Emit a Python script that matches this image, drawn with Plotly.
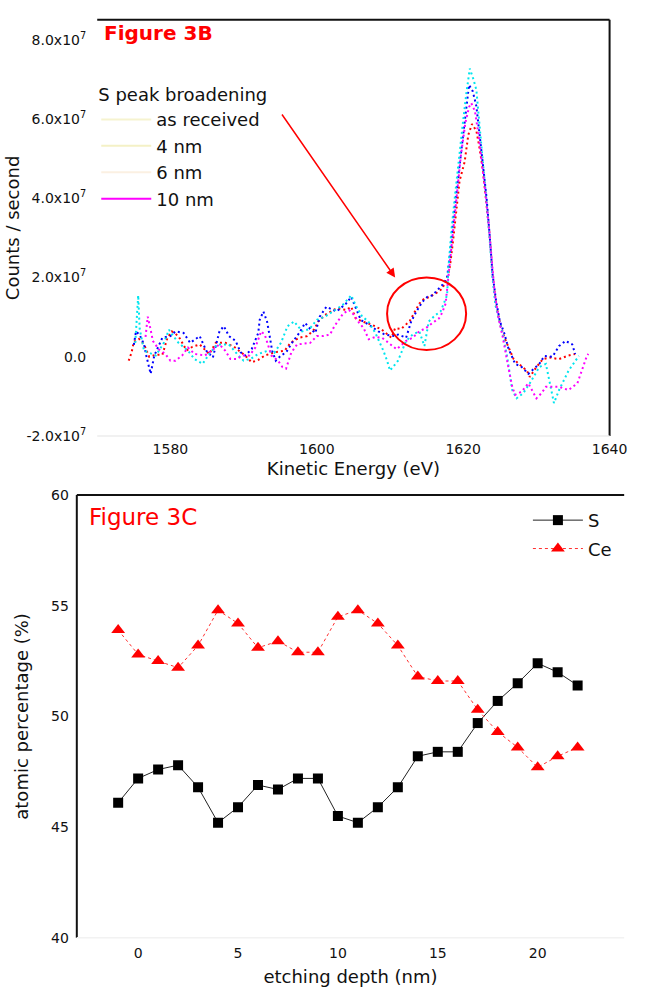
import plotly.graph_objects as go

# ---------------- Figure 3B data (counts/s in units of 1e7) ----------------
e_asrec = [1574.3, 1574.7, 1575.0, 1575.7, 1576.4, 1577.1, 1578.0, 1578.9, 1579.6, 1580.2, 1581.1, 1582.2,
           1583.0, 1584.0, 1585.3, 1586.2, 1587.5, 1588.7, 1590.2, 1591.1, 1592.0, 1592.9, 1594.2, 1595.6,
           1596.4, 1597.6, 1598.7, 1599.6, 1600.2, 1601.1, 1602.7, 1604.0, 1604.7, 1605.3, 1606.2, 1607.5,
           1608.9, 1610.2, 1610.7, 1611.5, 1612.7, 1613.3, 1614.0, 1614.7, 1615.3, 1616.2, 1617.1, 1617.8,
           1618.2, 1618.6, 1619.1, 1619.5, 1620.2, 1620.7, 1621.2, 1621.8, 1622.2, 1622.7, 1623.1, 1623.6,
           1624.0, 1624.5, 1625.1, 1625.6, 1626.4, 1626.9, 1627.6, 1628.7, 1629.1, 1630.0, 1630.9, 1631.8,
           1633.1, 1634.2, 1635.3]
v_asrec = [-0.10, 0.11, 0.38, 0.45, 0.31, 0.00, 0.05, 0.05, 0.48, 0.64, 0.52, 0.16,
           0.25, 0.31, 0.07, 0.35, 0.35, 0.25, 0.03, -0.14, -0.08, 0.03, 0.11, 0.15,
           0.35, 0.48, 0.52, 0.68, 0.89, 1.05, 1.22, 1.18, 1.26, 0.97, 0.89, 0.81,
           0.68, 0.48, 0.72, 0.70, 0.90, 1.10, 1.34, 1.47, 1.50, 1.59, 1.71, 1.96,
           2.29, 2.90, 3.85, 4.43, 4.92, 5.60, 5.87, 5.70, 5.30, 4.70, 4.00, 3.10,
           2.10, 1.30, 0.80, 0.50, 0.15, -0.06, -0.18, -0.35, -0.51, -0.26, -0.06, -0.02,
           -0.06, 0.02, 0.07]

e_4nm = [1575.0, 1575.3, 1575.8, 1576.4, 1576.7, 1577.1, 1577.3, 1577.8, 1578.9, 1580.0, 1580.7, 1581.8,
         1582.7, 1584.0, 1584.9, 1585.8, 1586.7, 1587.3, 1588.0, 1588.9, 1589.6, 1590.2, 1591.1, 1592.0,
         1592.2, 1592.7, 1593.2, 1593.6, 1593.9, 1594.4, 1595.1, 1595.8, 1596.6, 1597.6, 1598.4, 1599.1,
         1599.8, 1600.4, 1601.3, 1602.7, 1604.0, 1604.7, 1605.1, 1606.0, 1607.1, 1608.4, 1609.3, 1610.7,
         1611.1, 1612.2, 1612.9, 1613.6, 1614.4, 1615.1, 1615.8, 1616.7, 1617.3, 1617.8, 1618.2, 1618.6,
         1619.1, 1619.6, 1620.2, 1620.8, 1621.3, 1621.8, 1622.3, 1622.8, 1623.2, 1623.6, 1624.0, 1624.5,
         1625.0, 1625.6, 1626.2, 1627.1, 1628.0, 1628.9, 1630.4, 1631.1, 1632.2, 1633.1, 1634.0, 1634.9,
         1635.3]
v_4nm = [0.30, 0.64, 0.55, 0.31, 0.03, -0.30, -0.43, 0.03, 0.48, 0.52, 0.64, 0.60,
         0.35, 0.52, 0.15, -0.02, 0.64, 0.77, 0.52, 0.40, 0.11, 0.03, 0.19, 0.60,
         0.93, 1.14, 0.89, 0.48, 0.15, -0.10, 0.03, 0.11, 0.35, 0.60, 0.85, 0.70,
         0.60, 1.01, 1.26, 1.14, 1.34, 1.51, 1.34, 0.93, 0.81, 0.64, 0.56, 0.52,
         0.56, 0.48, 0.89, 1.14, 1.38, 1.51, 1.55, 1.71, 1.84, 2.00, 2.60, 3.40,
         4.20, 5.10, 6.00, 6.86, 6.70, 6.32, 5.50, 4.70, 4.00, 3.10, 2.10, 1.40,
         0.90, 0.60, 0.20, -0.18, -0.26, -0.43, -0.18, 0.02, 0.00, 0.27, 0.40, 0.31,
         0.07]

e_6nm = [1575.2, 1575.6, 1575.8, 1576.4, 1577.1, 1578.0, 1579.1, 1579.8, 1580.4, 1581.1, 1582.4, 1583.3,
         1584.4, 1585.3, 1586.4, 1588.0, 1589.3, 1590.0, 1591.0, 1592.0, 1593.3, 1594.2, 1595.1, 1596.0,
         1596.9, 1598.0, 1599.0, 1600.0, 1601.1, 1602.2, 1603.5, 1604.7, 1605.3, 1606.2, 1607.0, 1608.0,
         1608.5, 1609.1, 1609.6, 1610.0, 1610.4, 1611.1, 1612.2, 1613.1, 1614.0, 1614.7, 1615.3, 1616.2,
         1616.9, 1617.3, 1617.8, 1618.0, 1618.4, 1618.9, 1619.4, 1619.9, 1620.4, 1620.9, 1621.4, 1621.8,
         1622.3, 1622.8, 1623.2, 1623.6, 1624.0, 1624.4, 1624.9, 1625.5, 1626.0, 1626.4, 1626.7, 1627.3,
         1628.2, 1629.1, 1630.4, 1631.3, 1632.4, 1633.1, 1634.4, 1635.8]
v_6nm = [0.35, 1.55, 0.70, 0.15, 0.10, 0.03, 0.35, 0.68, 0.52, 0.35, 0.15, -0.06,
         -0.18, 0.07, 0.31, 0.31, 0.03, -0.10, -0.05, 0.07, 0.15, 0.10, 0.35, 0.77,
         0.89, 0.64, 0.70, 0.93, 1.01, 1.14, 1.30, 1.55, 1.30, 1.01, 0.90, 0.60,
         0.40, 0.15, -0.10, -0.35, -0.26, -0.10, 0.40, 0.56, 0.64, 0.27, 0.89, 1.05,
         1.14, 1.34, 1.55, 2.29, 3.20, 4.10, 5.00, 5.80, 6.60, 7.27, 7.00, 6.73,
         5.70, 4.80, 3.90, 3.00, 2.00, 1.30, 0.90, 0.50, 0.00, -0.51, -0.84, -1.05,
         -0.92, -0.67, -0.26, -0.18, -1.17, -0.84, -0.35, 0.02]

e_10nm = [1576.6, 1576.9, 1577.3, 1577.6, 1578.4, 1579.3, 1580.0, 1580.7, 1581.6, 1582.4, 1583.3, 1584.7,
          1585.6, 1586.7, 1587.5, 1588.2, 1589.1, 1589.8, 1590.8, 1591.6, 1592.4, 1592.9, 1593.8, 1594.7,
          1595.3, 1595.8, 1596.5, 1597.3, 1598.2, 1599.1, 1600.0, 1600.9, 1601.8, 1602.4, 1603.6, 1604.4,
          1605.1, 1605.8, 1606.4, 1607.1, 1608.0, 1608.9, 1609.8, 1610.4, 1610.9, 1612.2, 1613.1, 1614.0,
          1614.9, 1615.8, 1616.7, 1617.1, 1617.6, 1617.9, 1618.2, 1618.7, 1619.2, 1619.7, 1620.3, 1620.8,
          1621.1, 1621.6, 1622.1, 1622.6, 1623.0, 1623.5, 1623.9, 1624.3, 1624.8, 1625.4, 1626.0, 1626.7,
          1627.1, 1628.0, 1628.9, 1630.0, 1630.7, 1631.3, 1633.1, 1634.4, 1635.6, 1636.2, 1636.9, 1637.1]
v_10nm = [0.50, 1.01, 0.68, 0.40, 0.19, 0.07, -0.10, -0.10, 0.03, 0.23, 0.07, 0.03,
          0.15, 0.31, 0.15, -0.06, -0.06, 0.03, 0.03, 0.23, 0.64, 0.55, 0.03, -0.10,
          -0.26, -0.30, 0.10, 0.31, 0.33, 0.35, 0.52, 0.52, 0.56, 0.77, 1.09, 1.18,
          1.05, 0.85, 0.72, 0.44, 0.50, 0.48, 0.35, 0.25, 0.19, 0.40, 0.48, 0.64,
          0.72, 0.85, 0.97, 1.10, 1.34, 1.88, 2.45, 3.30, 4.20, 5.10, 5.90, 6.30,
          6.40, 6.20, 5.60, 4.90, 4.20, 3.30, 2.40, 1.60, 1.00, 0.50, -0.10, -0.76,
          -0.96, -0.88, -0.67, -1.05, -0.92, -0.76, -0.76, -0.84, -0.67, -0.35, 0.02, 0.07]

spec_names = ["as received", "4 nm", "6 nm", "10 nm"]
spec_colors = ["#ff0000", "#0000ff", "#00e5ee", "#ff00ff"]
legend_swatch_colors = ["#f6f3cf", "#f4f1c6", "#fbf0e2", "#ff00ff"]

b_yticks = [-2, 0, 2, 4, 6, 8]
b_yticktext = ["-2.0x10<sup>7</sup>", "0.0", "2.0x10<sup>7</sup>", "4.0x10<sup>7</sup>",
               "6.0x10<sup>7</sup>", "8.0x10<sup>7</sup>"]
b_xticks = [1580, 1600, 1620, 1640]

# ---------------- Figure 3C data ----------------
depth = [-1, 0, 1, 2, 3, 4, 5, 6, 7, 8, 9, 10, 11, 12, 13, 14, 15, 16, 17, 18, 19, 20, 21, 22]
s_pct = [46.1, 47.2, 47.6, 47.8, 46.8, 45.2, 45.9, 46.9, 46.7, 47.2, 47.2, 45.5,
         45.2, 45.9, 46.8, 48.2, 48.4, 48.4, 49.7, 50.7, 51.5, 52.4, 52.0, 51.4]
ce_pct = [53.9, 52.8, 52.5, 52.2, 53.2, 54.8, 54.2, 53.1, 53.4, 52.9, 52.9, 54.5,
          54.8, 54.2, 53.2, 51.8, 51.6, 51.6, 50.3, 49.3, 48.6, 47.7, 48.2, 48.6]
c_xticks = [0, 5, 10, 15, 20]
c_yticks = [40, 45, 50, 55, 60]

W, H = 648, 995
FONT = "DejaVu Sans, Verdana, sans-serif"
INK = "#111111"

fig = go.Figure()

# spectra (panel B)
for e, v, name, col in zip([e_asrec, e_4nm, e_6nm, e_10nm], [v_asrec, v_4nm, v_6nm, v_10nm],
                           spec_names, spec_colors):
    fig.add_trace(go.Scatter(x=e, y=v, mode="lines", name=name, showlegend=False,
                             line=dict(color=col, width=2, dash="2px,3px"),
                             xaxis="x", yaxis="y"))
# legend swatches for panel B (as they appear in the figure)
for name, col, grp in zip(spec_names, legend_swatch_colors, range(4)):
    fig.add_trace(go.Scatter(x=[None], y=[None], mode="lines", name=name, legend="legend",
                             legendgroup="b%d" % grp,
                             line=dict(color=col, width=2), xaxis="x", yaxis="y"))

# panel C
fig.add_trace(go.Scatter(x=depth, y=s_pct, mode="lines+markers", name="S", legend="legend2",
                         legendgroup="c0",
                         line=dict(color="#222222", width=1),
                         marker=dict(symbol="square", size=10, color="black"),
                         xaxis="x2", yaxis="y2"))
fig.add_trace(go.Scatter(x=depth, y=ce_pct, mode="lines+markers", name="Ce", legend="legend2",
                         legendgroup="c1",
                         line=dict(color="#ff3030", width=1, dash="dot"),
                         marker=dict(symbol="triangle-up", size=12, color="red"),
                         xaxis="x2", yaxis="y2"))


def px_x(p):
    return p / W


def px_y(p):
    return 1 - p / H


tickfont = dict(family=FONT, size=14, color=INK)
titlefont = dict(family=FONT, size=18, color=INK)
legfont = dict(family=FONT, size=18, color=INK)

fig.update_layout(
    width=W, height=H, autosize=False,
    margin=dict(l=0, r=0, t=0, b=0),
    paper_bgcolor="white", plot_bgcolor="white",
    font=dict(family=FONT, color=INK),
    xaxis=dict(domain=[px_x(100), px_x(627)], range=[1570, 1640], tickvals=b_xticks,
               showgrid=False, zeroline=False, showline=False, ticks="",
               tickfont=tickfont, ticklabelstandoff=3,
               title=dict(text="Kinetic Energy (eV)", font=titlefont, standoff=6),
               anchor="y"),
    yaxis=dict(domain=[px_y(435), px_y(12)], range=[-2, 8.5], tickvals=b_yticks,
               ticktext=b_yticktext, showgrid=False, zeroline=False, showline=False, ticks="",
               tickfont=tickfont, ticklabelstandoff=10,
               title=dict(text="Counts / second", font=titlefont, standoff=2),
               anchor="x"),
    xaxis2=dict(domain=[px_x(79), px_x(642)], range=[-3.07, 24.33], tickvals=c_xticks,
                showgrid=False, zeroline=False, showline=False, ticks="",
                tickfont=tickfont, ticklabelstandoff=5,
                title=dict(text="etching depth (nm)", font=titlefont, standoff=10),
                anchor="y2"),
    yaxis2=dict(domain=[px_y(945), px_y(495)], range=[40, 60], tickvals=c_yticks,
                showgrid=False, zeroline=False, showline=False, ticks="",
                tickfont=tickfont, ticklabelstandoff=7,
                title=dict(text="atomic percentage (%)", font=titlefont, standoff=17),
                anchor="x2"),
    legend=dict(x=px_x(99), y=px_y(71), xanchor="left", yanchor="top",
                bgcolor="rgba(0,0,0,0)", borderwidth=0, font=legfont,
                title=dict(text="S peak broadening", font=legfont),
                traceorder="grouped", tracegroupgap=0, itemwidth=50),
    legend2=dict(x=px_x(543), y=px_y(502), xanchor="left", yanchor="top",
                 bgcolor="rgba(0,0,0,0)", borderwidth=0, font=legfont,
                 traceorder="grouped", tracegroupgap=2, itemwidth=50),
)

# frame lines (as drawn in the original figure)
frame = [
    # panel B: heavy top + right, faint bottom
    dict(xref="x domain", yref="y domain", x0=0, x1=1, y0=1, y1=1, color=INK, w=2),
    dict(xref="x domain", yref="y domain", x0=1, x1=1, y0=0, y1=1, color=INK, w=2),
    dict(xref="x domain", yref="y domain", x0=0, x1=1, y0=0, y1=0, color="#ececec", w=1.5),
    # panel C: heavy top + left, faint bottom
    dict(xref="x2 domain", yref="y2 domain", x0=0, x1=1, y0=1, y1=1, color=INK, w=2),
    dict(xref="x2 domain", yref="y2 domain", x0=0, x1=0, y0=0, y1=1, color=INK, w=2),
    dict(xref="x2 domain", yref="y2 domain", x0=0, x1=1, y0=0, y1=0, color="#f2f2f2", w=1.5),
]
for f in frame:
    fig.add_shape(type="line", xref=f["xref"], yref=f["yref"], x0=f["x0"], x1=f["x1"],
                  y0=f["y0"], y1=f["y1"], line=dict(color=f["color"], width=f["w"]))

# red circle highlighting the broadening region
fig.add_shape(type="circle", xref="x", yref="y", x0=1609.6, x1=1620.4, y0=0.17, y1=2.0,
              line=dict(color="red", width=2))

# arrow from legend title to circle
fig.add_annotation(xref="x", yref="y", axref="x", ayref="y", x=1610.7, y=2.0,
                   ax=1595.1, ay=6.15, text="", showarrow=True, arrowhead=2,
                   arrowsize=1.2, arrowwidth=1.5, arrowcolor="red")

# panel labels
fig.add_annotation(xref="paper", yref="paper", x=px_x(105), y=px_y(25), xanchor="left",
                   yanchor="middle", text="<b>Figure 3B</b>", showarrow=False,
                   font=dict(family=FONT, size=20, color="red"))
fig.add_annotation(xref="paper", yref="paper", x=px_x(89), y=px_y(517), xanchor="left",
                   yanchor="middle", text="Figure 3C", showarrow=False,
                   font=dict(family=FONT, size=23, color="red"))

fig.write_html("out.html", config={"displayModeBar": False},
               post_script="document.body.style.margin='0px';document.body.style.overflow='hidden';")
